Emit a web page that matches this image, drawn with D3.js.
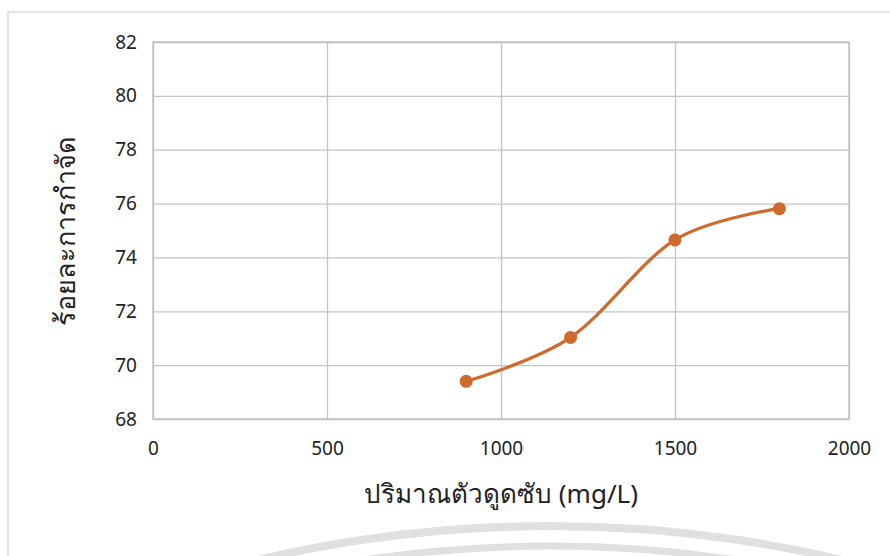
<!DOCTYPE html>
<html><head><meta charset="utf-8">
<script src="https://cdn.jsdelivr.net/npm/d3@7"></script>
<style>
html,body{margin:0;padding:0;background:#fff;}
svg text{font-family:"Noto Sans","Open Sans",Calibri,sans-serif;}
</style></head>
<body>
<svg id="c" width="890" height="556"></svg>
<script>
const xValues = [900, 1200, 1500, 1800];
const yValues = [69.4, 71.03, 74.65, 75.81];
const xTicks = [0, 500, 1000, 1500, 2000];
const yTicks = [68, 70, 72, 74, 76, 78, 80, 82];
const xTitle = "ปริมาณตัวดูดซับ (mg/L)";
const yTitle = "ร้อยละการกำจัด";

const svg = d3.select("#c");
const W = 890, H = 556;
const m = {left:153, right:890-849, top:42, bottom:556-419};

// page watermark arcs (decorative)
const wm = svg.append("g").attr("transform","translate(550,1800)");
[[1274,8],[1254,7]].forEach(([r,w])=>{
  wm.append("path")
    .attr("d", d3.arc()({innerRadius:r-w/2, outerRadius:r+w/2, startAngle:-0.3, endAngle:0.3}))
    .attr("fill","#e0e0e0");
});

// outer frame
svg.append("rect").attr("x",8).attr("y",12).attr("width",W).attr("height",H)
  .attr("fill","none").attr("stroke","#d0d0d0").attr("stroke-width",1.2);

const x = d3.scaleLinear().domain([0,2000]).range([m.left, W-m.right]);
const y = d3.scaleLinear().domain([68,82]).range([H-m.bottom, m.top]);

const g = svg.append("g");
// grid
g.append("g").attr("transform",`translate(0,${m.top})`)
  .call(d3.axisBottom(x).tickValues(xTicks).tickSize(H-m.bottom-m.top).tickFormat(""))
  .call(s=>s.select(".domain").remove())
  .call(s=>s.selectAll("line").attr("stroke","#c4c4c4").attr("stroke-width",1.3));
g.append("g").attr("transform",`translate(${m.left},0)`)
  .call(d3.axisRight(y).tickValues(yTicks).tickSize(W-m.right-m.left).tickFormat(""))
  .call(s=>s.select(".domain").remove())
  .call(s=>s.selectAll("line").attr("stroke","#c4c4c4").attr("stroke-width",1.3));
g.append("rect").attr("x",m.left).attr("y",m.top).attr("width",W-m.right-m.left).attr("height",H-m.bottom-m.top)
  .attr("fill","none").attr("stroke","#bdbdbd").attr("stroke-width",1.3);

// tick labels
const xa = svg.append("g").attr("transform",`translate(0,${H-m.bottom})`)
  .call(d3.axisBottom(x).tickValues(xTicks).tickSize(0).tickPadding(23).tickFormat(d3.format("d")));
xa.select(".domain").remove();
xa.selectAll("text").attr("font-size",19).attr("fill","#222");
const ya = svg.append("g").attr("transform",`translate(${m.left},0)`)
  .call(d3.axisLeft(y).tickValues(yTicks).tickSize(0).tickPadding(16).tickFormat(d3.format("d")));
ya.select(".domain").remove();
ya.selectAll("text").attr("font-size",19).attr("fill","#222");

// titles
svg.append("text").attr("x",(x(0)+x(2000))/2).attr("y",503).attr("text-anchor","middle")
  .attr("font-size",26).attr("fill","#222").text(xTitle);
svg.append("text").attr("transform",`translate(75,${(y(68)+y(82))/2}) rotate(-90)`)
  .attr("text-anchor","middle").attr("font-size",27).attr("fill","#222").text(yTitle);

// series
const pts = xValues.map((v,i)=>[v,yValues[i]]);
const color = "#d0692c";
svg.append("path").datum(pts)
  .attr("d", d3.line().x(d=>x(d[0])).y(d=>y(d[1])).curve(d3.curveCatmullRom.alpha(0)))
  .attr("fill","none").attr("stroke",color).attr("stroke-width",3.2);
svg.selectAll("circle.pt").data(pts).join("circle").attr("class","pt")
  .attr("cx",d=>x(d[0])).attr("cy",d=>y(d[1])).attr("r",6.5).attr("fill",color);
</script>
</body></html>
